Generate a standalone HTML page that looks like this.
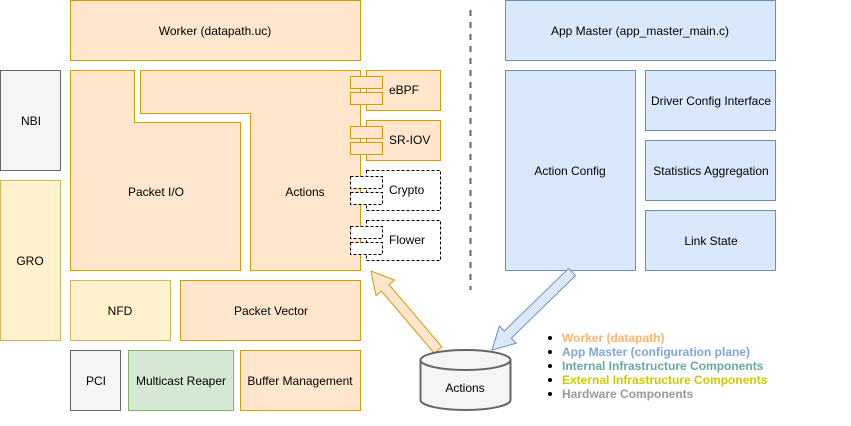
<!DOCTYPE html>
<html><head><meta charset="utf-8"><style>
html,body{margin:0;padding:0;background:#fff;}
svg text{font-family:"Liberation Sans",sans-serif;font-size:12px;fill:#000;}
</style></head><body>
<svg width="851" height="421" viewBox="0 0 851 421" xmlns="http://www.w3.org/2000/svg">
<g stroke-width="1">
<rect x="70.5" y="0.5" width="290" height="60" fill="#ffe6cc" stroke="#d79b00"/>
<rect x="0.5" y="70.5" width="60" height="100" fill="#f5f5f5" stroke="#666"/>
<rect x="0.5" y="180.5" width="60" height="160" fill="#fff2cc" stroke="#d6b656"/>
<polygon points="70.5,70.5 134.5,70.5 134.5,122.5 240.5,122.5 240.5,270.5 70.5,270.5" fill="#ffe6cc" stroke="#d79b00"/>
<polygon points="140.5,70.5 360.5,70.5 360.5,270.5 250.5,270.5 250.5,113.5 140.5,113.5" fill="#ffe6cc" stroke="#d79b00"/>
<rect x="366.5" y="70.5" width="74" height="40" fill="#ffe6cc" stroke="#d79b00"/>
<rect x="350.5" y="76.5" width="32" height="12" fill="#ffe6cc" stroke="#d79b00"/>
<rect x="350.5" y="92.5" width="32" height="12" fill="#ffe6cc" stroke="#d79b00"/>
<rect x="366.5" y="120.5" width="74" height="40" fill="#ffe6cc" stroke="#d79b00"/>
<rect x="350.5" y="126.5" width="32" height="12" fill="#ffe6cc" stroke="#d79b00"/>
<rect x="350.5" y="142.5" width="32" height="12" fill="#ffe6cc" stroke="#d79b00"/>
<g fill="#fff" stroke="#000" stroke-dasharray="3 2">
<rect x="366.5" y="170.5" width="74" height="40"/>
<rect x="350.5" y="176.5" width="32" height="12"/>
<rect x="350.5" y="192.5" width="32" height="12"/>
<rect x="366.5" y="220.5" width="74" height="40"/>
<rect x="350.5" y="226.5" width="32" height="12"/>
<rect x="350.5" y="242.5" width="32" height="12"/>
</g>
<rect x="70.5" y="280.5" width="100" height="60" fill="#fff2cc" stroke="#d6b656"/>
<rect x="180.5" y="280.5" width="180" height="60" fill="#ffe6cc" stroke="#d79b00"/>
<rect x="70.5" y="350.5" width="50" height="60" fill="#f5f5f5" stroke="#666"/>
<rect x="128.5" y="350.5" width="105" height="60" fill="#d5e8d4" stroke="#82b366"/>
<rect x="240.5" y="350.5" width="120" height="60" fill="#ffe6cc" stroke="#d79b00"/>
<line x1="470.5" y1="10" x2="470.5" y2="290" stroke="#666" stroke-width="2" stroke-dasharray="6 6"/>
<rect x="505.5" y="0.5" width="270" height="60" fill="#dae8fc" stroke="#6c8ebf"/>
<rect x="505.5" y="70.5" width="130" height="200" fill="#dae8fc" stroke="#6c8ebf"/>
<rect x="645.5" y="70.5" width="130" height="60" fill="#dae8fc" stroke="#6c8ebf"/>
<rect x="645.5" y="140.5" width="130" height="60" fill="#dae8fc" stroke="#6c8ebf"/>
<rect x="645.5" y="210.5" width="130" height="60" fill="#dae8fc" stroke="#6c8ebf"/>
<polygon points="441.8,346.8 389,284.6 394.4,280 371,271 376,295.6 381.4,291 434.2,353.2" fill="#ffe6cc" stroke="#d79b00"/>
<polygon points="575.5,275.6 511.3,338.2 516.2,343.2 492,350 499.4,326 504.3,331 568.5,268.4" fill="#dae8fc" stroke="#6c8ebf"/>
<path d="M420.5,360 L420.5,400 A45,10 0 0 0 510.5,400 L510.5,360" fill="#f5f5f5" stroke="#666" stroke-width="2"/>
<ellipse cx="465.5" cy="360" rx="45" ry="10" fill="#f5f5f5" stroke="#666" stroke-width="2"/>
</g>
<g text-anchor="middle">
<text x="215" y="35">Worker (datapath.uc)</text>
<text x="31" y="125">NBI</text>
<text x="30" y="265">GRO</text>
<text x="156" y="196">Packet I/O</text>
<text x="305" y="196">Actions</text>
<text x="120" y="315">NFD</text>
<text x="271" y="315">Packet Vector</text>
<text x="96" y="385">PCI</text>
<text x="181" y="385">Multicast Reaper</text>
<text x="300" y="385">Buffer Management</text>
<text x="640" y="35">App Master (app_master_main.c)</text>
<text x="570" y="175">Action Config</text>
<text x="711" y="105">Driver Config Interface</text>
<text x="711" y="175">Statistics Aggregation</text>
<text x="711" y="245">Link State</text>
<text x="465" y="392">Actions</text>
</g>
<text x="389" y="94">eBPF</text>
<text x="389" y="144">SR-IOV</text>
<text x="389" y="194">Crypto</text>
<text x="389" y="244">Flower</text>
<g font-weight="bold">
<circle cx="550" cy="338" r="2" fill="#000"/><text x="562" y="342" style="fill:#FFB570;font-weight:bold">Worker (datapath)</text>
<circle cx="550" cy="352" r="2" fill="#000"/><text x="562" y="356" style="fill:#7EA6E0;font-weight:bold">App Master (configuration plane)</text>
<circle cx="550" cy="366" r="2" fill="#000"/><text x="562" y="370" style="fill:#67AB9F;font-weight:bold">Internal Infrastructure Components</text>
<circle cx="550" cy="380" r="2" fill="#000"/><text x="562" y="384" style="fill:#CCCC00;font-weight:bold">External Infrastructure Components</text>
<circle cx="550" cy="394" r="2" fill="#000"/><text x="562" y="398" style="fill:#999999;font-weight:bold">Hardware Components</text>
</g>
</svg>
</body></html>
